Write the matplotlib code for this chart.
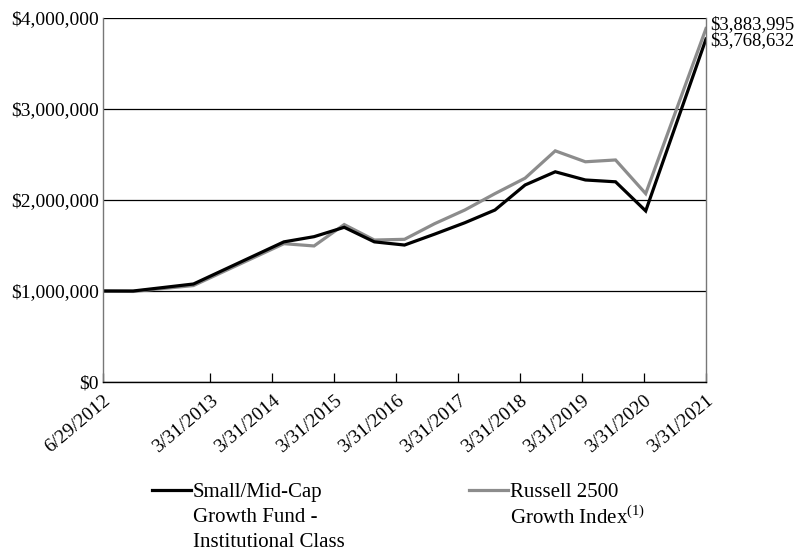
import numpy as np
import matplotlib.pyplot as plt
from matplotlib.lines import Line2D
from matplotlib.ticker import FuncFormatter

plt.rcParams['font.family'] = ['Liberation Serif', 'DejaVu Serif']
plt.rcParams['mathtext.fontset'] = 'custom'
plt.rcParams['mathtext.rm'] = 'Liberation Serif'

# Period positions of the plotted points (half-year steps from inception).
period = [0, 1, 3, 6, 7, 8, 9, 10, 11, 12, 13, 14, 15, 16, 17, 18, 20]

# Growth of $1,000,000 (in dollars).
fund = [1000000, 1000000, 1077000, 1540000, 1597000, 1700000, 1540000,
        1505000, 1625000, 1750000, 1890000, 2165000, 2310000, 2220000,
        2200000, 1880000, 3768632]
index = [1000000, 995000, 1060000, 1520000, 1495000, 1730000, 1560000,
         1568000, 1740000, 1890000, 2070000, 2240000, 2540000, 2420000,
         2440000, 2070000, 3883995]

tick_pos = [0, 3.555, 5.615, 7.675, 9.734, 11.79, 13.82, 15.88, 17.94, 20]
tick_labels = ['6/29/2012', '3/31/2013', '3/31/2014', '3/31/2015',
               '3/31/2016', '3/31/2017', '3/31/2018', '3/31/2019',
               '3/31/2020', '3/31/2021']

fund_label = ['Small/Mid-Cap', 'Growth Fund -', 'Institutional Class']
index_label = ['Russell 2500', 'Growth Index$^{\\mathrm{(1)}}$']

fig = plt.figure(figsize=(7.99, 5.54), dpi=100)
ax = fig.add_axes([103 / 799, 172 / 554, 603 / 799, 364 / 554])

ax.plot(period, index, color='#8c8c8c', lw=2.3, solid_joinstyle='miter')
ax.plot(period, fund, color='black', lw=2.3, solid_joinstyle='miter')

ax.set_xlim(0, 20)
ax.set_ylim(0, 4000000)
ax.set_yticks(np.arange(0, 4000001, 1000000))
ax.yaxis.set_major_formatter(FuncFormatter(lambda v, p: f'${v:,.0f}'))
ax.tick_params(axis='y', length=0, pad=3, labelsize=14)
ax.yaxis.grid(True, color='black', lw=0.9)
ax.set_axisbelow(True)

ax.set_xticks(tick_pos)
ax.set_xticklabels(tick_labels, rotation=40, ha='right', va='top',
                   rotation_mode='anchor', fontsize=14)
ax.tick_params(axis='x', direction='in', length=6.5, width=0.9, pad=7)

for side in ['left', 'right']:
    ax.spines[side].set_color('#777777')
    ax.spines[side].set_linewidth(1.0)
ax.spines['top'].set_visible(False)
ax.spines['bottom'].set_linewidth(1.0)

# Ending values beside the right edge
ax.annotate(f'${index[-1]:,}', (period[-1], index[-1]), xytext=(3, 3),
            textcoords='offset points', va='center', ha='left',
            fontsize=13.5, annotation_clip=False)
ax.annotate(f'${fund[-1]:,}', (period[-1], fund[-1]), xytext=(3, -1),
            textcoords='offset points', va='center', ha='left',
            fontsize=13.5, annotation_clip=False)


# Legend drawn by hand so the keys sit on the first text line
def legend_entry(x_key, lines, color):
    y0 = 1 - 490 / 554
    step = 25 / 554
    fig.add_artist(Line2D([x_key / 799, (x_key + 39) / 799], [y0, y0],
                          color=color, lw=2.3))
    for i, line in enumerate(lines):
        fig.text((x_key + 41) / 799, y0 - i * step, line, fontsize=15,
                 va='center_baseline', ha='left')


legend_entry(152, fund_label, 'black')
legend_entry(469, index_label, '#8c8c8c')

plt.savefig('out.png', dpi=100)
